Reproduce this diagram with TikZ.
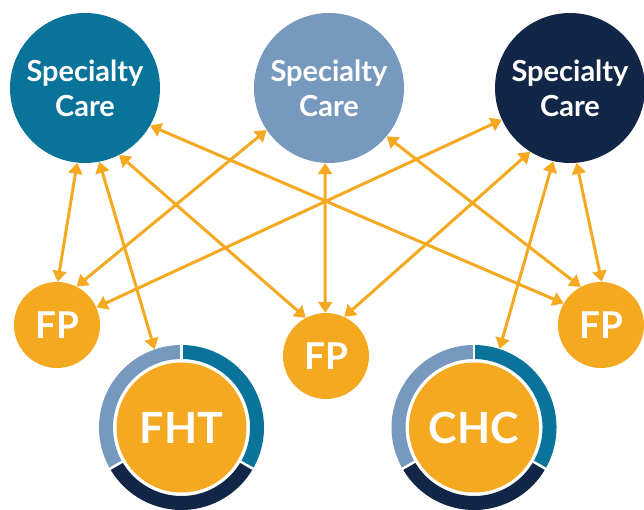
\documentclass[tikz,border=0pt]{standalone}
\usepackage{fontspec}
\setmainfont{Lato}
\usetikzlibrary{arrows.meta}

\definecolor{scteal}{RGB}{9,115,153}
\definecolor{scsteel}{RGB}{120,153,190}
\definecolor{scnavy}{RGB}{18,39,72}
\definecolor{fporange}{RGB}{244,169,32}

\tikzset{
  spec/.style={circle, minimum size=150pt, inner sep=0pt, text=white, align=center,
    font=\fontsize{29}{35}\selectfont\bfseries},
  fp/.style={circle, fill=fporange, minimum size=86pt, inner sep=0pt, text=white,
    font=\fontsize{37}{37}\selectfont\bfseries},
  ring/.style={circle, minimum size=165pt, inner sep=0pt},
  hub/.style={circle, fill=fporange, minimum size=130pt, inner sep=0pt, text=white,
    font=\fontsize{43}{43}\selectfont\bfseries},
  link/.style={draw=fporange, line width=3pt,
    {Triangle[length=11pt,width=14pt]}-{Triangle[length=11pt,width=14pt]}}
}

\begin{document}
\begin{tikzpicture}[x=1pt, y=1pt]
  \useasboundingbox (0,0) rectangle (644,510);
  % Specialty care, top row
  \node[spec, fill=scteal]  (sc1) at (85,422)  {Specialty\\Care};
  \node[spec, fill=scsteel] (sc2) at (329,422) {Specialty\\Care};
  \node[spec, fill=scnavy]  (sc3) at (570,422) {Specialty\\Care};
  % FP circles
  \node[fp] (fp1) at (57,185)  {FP};
  \node[fp] (fp2) at (326,154) {FP};
  \node[fp] (fp3) at (601,185) {FP};
  % FHT and CHC with their three-coloured rings
  \foreach \n/\x in {fht/181.5, chc/474}{
    \node[ring] (\n) at (\x,82.5) {};
    \foreach \a/\c in {90/scsteel, -30/scteal, 210/scnavy}
      \draw[line width=14pt, \c] (\n.center) ++(\a:75.5) arc[start angle=\a, delta angle=120, radius=75.5];
    \foreach \a in {90, 210, 330}
      \draw[white, line width=2.5pt] (\n.center) -- ++(\a:84);
  }
  \node[hub] (fhtcore) at (fht) {FHT};
  \node[hub] (chccore) at (chc) {CHC};
  % links
  \draw[link] (sc1.-96)  -- (fp1.89);
  \draw[link] (sc1.-79)  -- (fht.109);
  \draw[link] (sc1.-63)  -- (fp2.118);
  \draw[link] (sc1.-30)  -- (fp3.150);
  \draw[link] (sc2.-146) -- (fp1.63);
  \draw[link] (sc2.-93)  -- (fp2.91);
  \draw[link] (sc2.-40)  -- (fp3.118);
  \draw[link] (sc3.-155) -- (fp1.24);
  \draw[link] (sc3.-122) -- (fp2.65);
  \draw[link] (sc3.-103) -- (chc.72);
  \draw[link] (sc3.-85)  -- (fp3.89);
\end{tikzpicture}
\end{document}
